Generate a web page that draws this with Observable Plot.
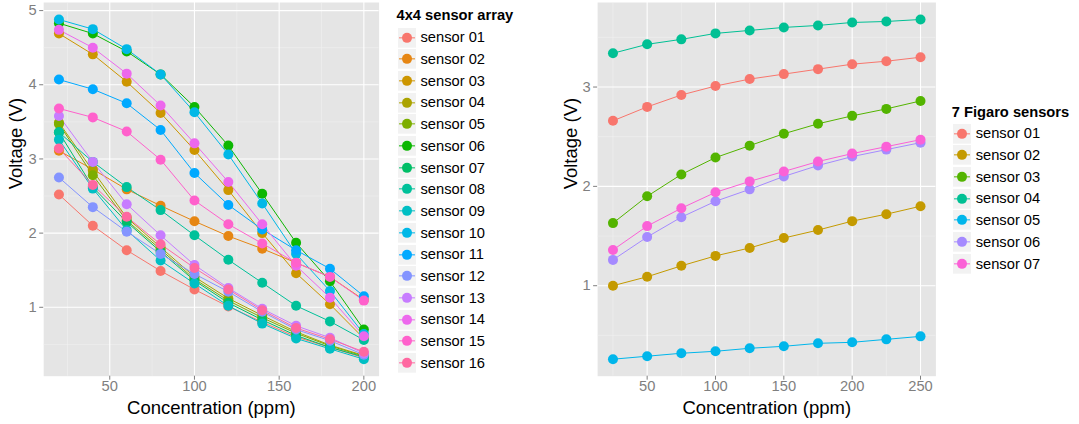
<!DOCTYPE html>
<html>
<head>
<meta charset="utf-8">
<script src="https://cdn.jsdelivr.net/npm/d3@7"></script>
<script src="https://cdn.jsdelivr.net/npm/@observablehq/plot@0.6"></script>
<style>
  html, body { margin: 0; padding: 0; background: #ffffff; }
  #page { position: relative; width: 1079px; height: 424px; overflow: hidden; font-family: "Liberation Sans", Arial, sans-serif; }
  .panel { position: absolute; top: 0; }
  .legend-title { position: absolute; font-weight: bold; font-size: 14.7px; color: #000; white-space: nowrap; line-height: 1; }
  .legend-row { position: absolute; display: flex; align-items: center; white-space: nowrap; }
  .legend-row span { font-size: 14.7px; color: #000; margin-left: 4px; }
</style>
</head>
<body>
<div id="page">
  <div id="left" class="panel" style="left:0px"></div>
  <div id="right" class="panel" style="left:545px"></div>
  <div id="legA"></div>
  <div id="legB"></div>
</div>
<script>
// ---------- DATA: 4x4 sensor array ----------
const concA = [20, 40, 60, 80, 100, 120, 140, 160, 180, 200];
const namesA = ["sensor 01","sensor 02","sensor 03","sensor 04","sensor 05","sensor 06","sensor 07","sensor 08",
                "sensor 09","sensor 10","sensor 11","sensor 12","sensor 13","sensor 14","sensor 15","sensor 16"];
const colorsA = ["#F8766D","#E68613","#CD9600","#ABA300","#7CAE00","#0CB702","#00BE67","#00C19A",
                 "#00BFC4","#00B8E7","#00A9FF","#8494FF","#C77CFF","#ED68ED","#FF61CC","#FF68A1"];
const a01 = [2.52, 2.10, 1.77, 1.49, 1.24, 1.01, 0.80, 0.60, 0.46, 0.32];
const a02 = [3.11, 2.86, 2.59, 2.37, 2.16, 1.96, 1.79, 1.60, 1.41, 1.10];
const a03 = [4.69, 4.41, 4.04, 3.62, 3.12, 2.58, 2.00, 1.46, 1.04, 0.58];
const a04 = [3.49, 2.84, 2.21, 1.81, 1.41, 1.12, 0.89, 0.67, 0.49, 0.35];
const a05 = [3.47, 2.78, 2.17, 1.78, 1.38, 1.09, 0.86, 0.65, 0.48, 0.34];
const a06 = [4.83, 4.69, 4.45, 4.14, 3.70, 3.18, 2.53, 1.87, 1.35, 0.70];
const a07 = [3.36, 2.62, 2.15, 1.75, 1.36, 1.06, 0.83, 0.62, 0.46, 0.33];
const a08 = [3.36, 2.96, 2.62, 2.31, 1.97, 1.64, 1.33, 1.02, 0.81, 0.56];
const a09 = [3.26, 2.60, 2.04, 1.63, 1.32, 1.02, 0.78, 0.58, 0.44, 0.30];
const a10 = [4.88, 4.75, 4.48, 4.14, 3.63, 3.06, 2.40, 1.72, 1.22, 0.64];
const a11 = [4.07, 3.94, 3.75, 3.39, 2.81, 2.38, 2.05, 1.77, 1.52, 1.15];
const a12 = [2.75, 2.35, 2.02, 1.72, 1.45, 1.21, 0.94, 0.70, 0.55, 0.36];
const a13 = [3.58, 2.96, 2.39, 1.97, 1.57, 1.26, 0.98, 0.75, 0.59, 0.38];
const a14 = [4.74, 4.50, 4.15, 3.72, 3.21, 2.69, 2.12, 1.56, 1.13, 0.61];
const a15 = [3.68, 3.56, 3.37, 2.99, 2.44, 2.12, 1.86, 1.60, 1.41, 1.09];
const a16 = [3.14, 2.65, 2.22, 1.85, 1.53, 1.24, 0.96, 0.72, 0.57, 0.40];
const seriesA = [a01,a02,a03,a04,a05,a06,a07,a08,a09,a10,a11,a12,a13,a14,a15,a16];
const xTicksA = [50, 100, 150, 200];
const yTicksA = [1, 2, 3, 4, 5];

// ---------- DATA: 7 Figaro sensors ----------
const concB = [25, 50, 75, 100, 125, 150, 175, 200, 225, 250];
const namesB = ["sensor 01","sensor 02","sensor 03","sensor 04","sensor 05","sensor 06","sensor 07"];
const colorsB = ["#F8766D","#C49A00","#53B400","#00C094","#00B6EB","#A58AFF","#FB61D7"];
const f01 = [2.66, 2.80, 2.92, 3.01, 3.08, 3.13, 3.18, 3.23, 3.26, 3.30];
const f02 = [1.00, 1.09, 1.20, 1.30, 1.38, 1.48, 1.56, 1.65, 1.72, 1.80];
const f03 = [1.63, 1.90, 2.12, 2.29, 2.41, 2.53, 2.63, 2.71, 2.78, 2.86];
const f04 = [3.34, 3.43, 3.48, 3.54, 3.57, 3.60, 3.62, 3.65, 3.66, 3.68];
const f05 = [0.26, 0.29, 0.32, 0.34, 0.37, 0.39, 0.42, 0.43, 0.46, 0.49];
const f06 = [1.26, 1.49, 1.69, 1.85, 1.97, 2.10, 2.21, 2.30, 2.37, 2.44];
const f07 = [1.36, 1.60, 1.78, 1.94, 2.05, 2.15, 2.25, 2.33, 2.40, 2.47];
const seriesB = [f01,f02,f03,f04,f05,f06,f07];
const xTicksB = [50, 100, 150, 200, 250];
const yTicksB = [1, 2, 3];

const xTitle = "Concentration (ppm)";
const yTitle = "Voltage (V)";
const legendTitleA = "4x4 sensor array";
const legendTitleB = "7 Figaro sensors";

// ---------- helpers ----------
function tidy(names, conc, series) {
  return names.flatMap((name, i) => conc.map((c, j) => ({sensor: name, conc: c, v: series[i][j]})));
}
function expand(lo, hi, f = 0.05) { const d = (hi - lo) * f; return [lo - d, hi + d]; }
function minors(major, dom) {
  const step = major[1] - major[0];
  const out = [];
  for (let t = major[0] - step / 2; t <= dom[1]; t += step) if (t >= dom[0]) out.push(t);
  return out;
}

function panel({rows, names, colors, conc, xTicks, yTicks, width, mLeft, mRight, yTitleX}) {
  const vals = rows.map(d => d.v);
  const xDom = expand(d3.min(conc), d3.max(conc));
  const yDom = expand(d3.min(vals), d3.max(vals));
  const grey = "#7F7F7F";
  return Plot.plot({
    width, height: 424,
    marginLeft: mLeft, marginRight: mRight, marginTop: 2, marginBottom: 48.3,
    x: {domain: xDom}, y: {domain: yDom},
    color: {domain: names, range: colors},
    style: {fontFamily: '"Liberation Sans", Arial, sans-serif', background: "transparent", overflow: "visible"},
    marks: [
      Plot.frame({fill: "#E5E5E5", stroke: "none"}),
      Plot.gridX(minors(xTicks, xDom), {stroke: "#F2F2F2", strokeOpacity: 1, strokeWidth: 0.55}),
      Plot.gridY(minors(yTicks, yDom), {stroke: "#F2F2F2", strokeOpacity: 1, strokeWidth: 0.55}),
      Plot.gridX(xTicks, {stroke: "#FFFFFF", strokeOpacity: 1, strokeWidth: 1.1}),
      Plot.gridY(yTicks, {stroke: "#FFFFFF", strokeOpacity: 1, strokeWidth: 1.1}),
      Plot.axisX(xTicks, {tickSize: 4, tickPadding: 0, fontSize: 14.7, color: grey, label: null, tickFormat: d => String(d)}),
      Plot.axisY(yTicks, {tickSize: 4, tickPadding: 3, fontSize: 14.7, color: grey, label: null, tickFormat: d => String(d)}),
      Plot.line(rows, {x: "conc", y: "v", z: "sensor", stroke: "sensor", strokeWidth: 1}),
      Plot.dot(rows, {x: "conc", y: "v", fill: "sensor", r: 5, stroke: "none"}),
      Plot.text([xTitle], {frameAnchor: "bottom", lineAnchor: "middle", dy: 31.5, fontSize: 18.5, fill: "black"}),
      Plot.text([yTitle], {frameAnchor: "left", lineAnchor: "middle", rotate: -90, dx: -mLeft + yTitleX, fontSize: 18.5, fill: "black"})
    ]
  });
}

document.getElementById("left").append(panel({
  rows: tidy(namesA, concA, seriesA), names: namesA, colors: colorsA, conc: concA,
  xTicks: xTicksA, yTicks: yTicksA, width: 390, mLeft: 43.2, mRight: 11.4, yTitleX: 16
}));
document.getElementById("right").append(panel({
  rows: tidy(namesB, concB, seriesB), names: namesB, colors: colorsB, conc: concB,
  xTicks: xTicksB, yTicks: yTicksB, width: 395, mLeft: 52.1, mRight: 4.6, yTitleX: 26
}));

// ---------- legends ----------
function legend(container, title, names, colors, left, titleTop, keysTop) {
  const el = document.getElementById(container);
  const t = document.createElement("div");
  t.className = "legend-title";
  t.style.left = left + "px"; t.style.top = titleTop + "px";
  t.textContent = title;
  el.append(t);
  const kh = 21.7, kw = 20;
  names.forEach((n, i) => {
    const row = document.createElement("div");
    row.className = "legend-row";
    row.style.left = left + "px";
    row.style.top = (keysTop + i * kh) + "px";
    row.style.height = kh + "px";
    const ns = "http://www.w3.org/2000/svg";
    const svg = document.createElementNS(ns, "svg");
    svg.setAttribute("width", kw); svg.setAttribute("height", kh);
    const rect = document.createElementNS(ns, "rect");
    rect.setAttribute("x", 0.5); rect.setAttribute("y", 0.5);
    rect.setAttribute("width", kw - 1); rect.setAttribute("height", kh - 1);
    rect.setAttribute("fill", "#F2F2F2"); rect.setAttribute("stroke", "#FFFFFF");
    const line = document.createElementNS(ns, "line");
    line.setAttribute("x1", 2); line.setAttribute("x2", kw - 2);
    line.setAttribute("y1", kh / 2); line.setAttribute("y2", kh / 2);
    line.setAttribute("stroke", colors[i]); line.setAttribute("stroke-width", 1);
    const c = document.createElementNS(ns, "circle");
    c.setAttribute("cx", kw / 2); c.setAttribute("cy", kh / 2); c.setAttribute("r", 5);
    c.setAttribute("fill", colors[i]);
    svg.append(rect, line, c);
    const s = document.createElement("span");
    s.textContent = n;
    row.append(svg, s);
    el.append(row);
  });
}
legend("legA", legendTitleA, namesA, colorsA, 396.5, 8, 26.5);
legend("legB", legendTitleB, namesB, colorsB, 951.7, 104.5, 122.5);
</script>
</body>
</html>
